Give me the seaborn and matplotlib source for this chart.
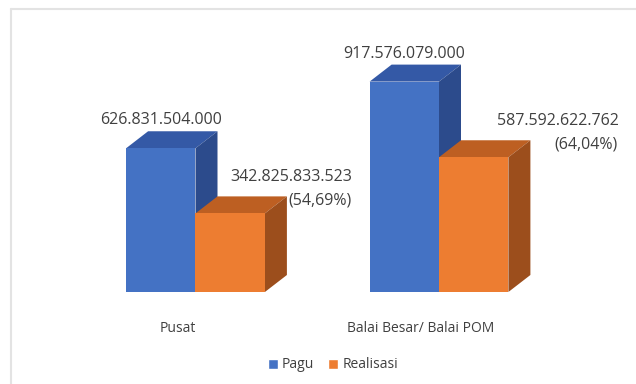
import matplotlib
matplotlib.use("Agg")
import matplotlib.pyplot as plt
from matplotlib.patches import Polygon, Rectangle
from matplotlib.transforms import ScaledTranslation
import seaborn as sns
import pandas as pd

# Budget (Pagu) vs. realisation (Realisasi), in rupiah
categories = ["Pusat", "Balai Besar/ Balai POM"]
series = ["Pagu", "Realisasi"]
pagu = [626831504000, 917576079000]
realisasi = [342825833523, 587592622762]
pagu_labels = ["626.831.504.000", "917.576.079.000"]
realisasi_labels = ["342.825.833.523", "587.592.622.762"]
realisasi_pct = ["(54,69%)", "(64,04%)"]

df = pd.DataFrame({
    "kategori": categories * 2,
    "seri": [series[0]] * 2 + [series[1]] * 2,
    "nilai": pagu + realisasi,
})

front = {"Pagu": "#4472C4", "Realisasi": "#ED7D31"}
top = {"Pagu": "#3459A6", "Realisasi": "#BD5F22"}
side = {"Pagu": "#2C4B8C", "Realisasi": "#9C4E1C"}
text_col = "#404040"

sns.set_theme(style="white")
plt.rcParams["font.family"] = ["Open Sans", "DejaVu Sans"]

W, H, DPI = 636, 384, 100
fig = plt.figure(figsize=(W / DPI, H / DPI), dpi=DPI)
ax = fig.add_axes([0, 0, 1, 1])

sns.barplot(data=df, x="kategori", y="nilai", hue="seri", order=categories,
            hue_order=series, palette=front, width=0.57, saturation=1,
            dodge=True, legend=False, ax=ax, edgecolor="none", linewidth=0)

# pixel-based view: category 0 at x=195.5 px, 243.5 px per category,
# baseline 92 px above the bottom, 0.2293 px per billion rupiah
px_x = 243.5
px_y = 0.2293e-9
x0_px, base_px = 195.5, 92
ax.set_xlim(-x0_px / px_x, (W - x0_px) / px_x)
ax.set_ylim(-base_px / px_y, (H - base_px) / px_y)

# depth of the 3-D faces
dx = 22 / px_x
dy = 17 / px_y

bars = sorted(ax.patches, key=lambda p: p.get_x())
for p in bars:
    color = p.get_facecolor()
    name = "Pagu" if abs(color[0] - 0x44 / 255) < 0.05 else "Realisasi"
    x, w, h = p.get_x(), p.get_width(), p.get_height()
    ax.add_patch(Polygon([(x, h), (x + w, h), (x + w + dx, h + dy), (x + dx, h + dy)],
                         closed=True, facecolor=top[name], edgecolor="none", zorder=1))
    ax.add_patch(Polygon([(x + w, 0), (x + w + dx, dy), (x + w + dx, h + dy), (x + w, h)],
                         closed=True, facecolor=side[name], edgecolor="none", zorder=1))
    p.set_zorder(2)

# value labels
for i in range(len(categories)):
    cx_pagu = i - 0.57 / 4
    ax.text(cx_pagu, pagu[i] + 28 / px_y, pagu_labels[i], ha="center", va="center",
            fontsize=11.5, color=text_col)

real_offsets = [61 / px_x, 84 / px_x]
for i in range(len(categories)):
    cx_real = i + 0.57 / 4 + real_offsets[i]
    ax.text(cx_real, realisasi[i] + 36 / px_y, realisasi_labels[i], ha="center",
            va="center", fontsize=11.5, color=text_col)
    ax.text(cx_real + 60 / px_x, realisasi[i] + 13 / px_y, realisasi_pct[i],
            ha="right", va="center", fontsize=11.5, color=text_col)

# category axis labels below the floor
ax.set_xlabel("")
ax.set_ylabel("")
ax.set_yticks([])
ax.set_xticks(range(len(categories)))
ax.set_xticklabels(categories, fontsize=10, color=text_col)
ax.tick_params(axis="x", length=0, pad=-base_px * 0.72 + 27)
shift = ScaledTranslation(-18 / DPI, 8 / DPI, fig.dpi_scale_trans)
for lbl in ax.get_xticklabels():
    lbl.set_transform(lbl.get_transform() + shift)
for s in ax.spines.values():
    s.set_visible(False)

# legend
handles = [Rectangle((0, 0), 1, 1, facecolor=front[s]) for s in series]
fig.legend(handles, series, loc="center", bbox_to_anchor=(333 / W, 1 - 365 / H),
           ncol=2, frameon=False, fontsize=10, handlelength=0.7, handleheight=0.7,
           handletextpad=0.3, columnspacing=1.0, labelcolor=text_col)

# chart area border (top and left edges visible)
fig.add_artist(plt.Line2D([11 / W, 1], [1 - 9 / H, 1 - 9 / H], color="#E3E3E3",
                          lw=1.5, transform=fig.transFigure))
fig.add_artist(plt.Line2D([11 / W, 11 / W], [0, 1 - 9 / H], color="#E3E3E3",
                          lw=1.5, transform=fig.transFigure))

fig.savefig("out.png", dpi=DPI, facecolor="white")
